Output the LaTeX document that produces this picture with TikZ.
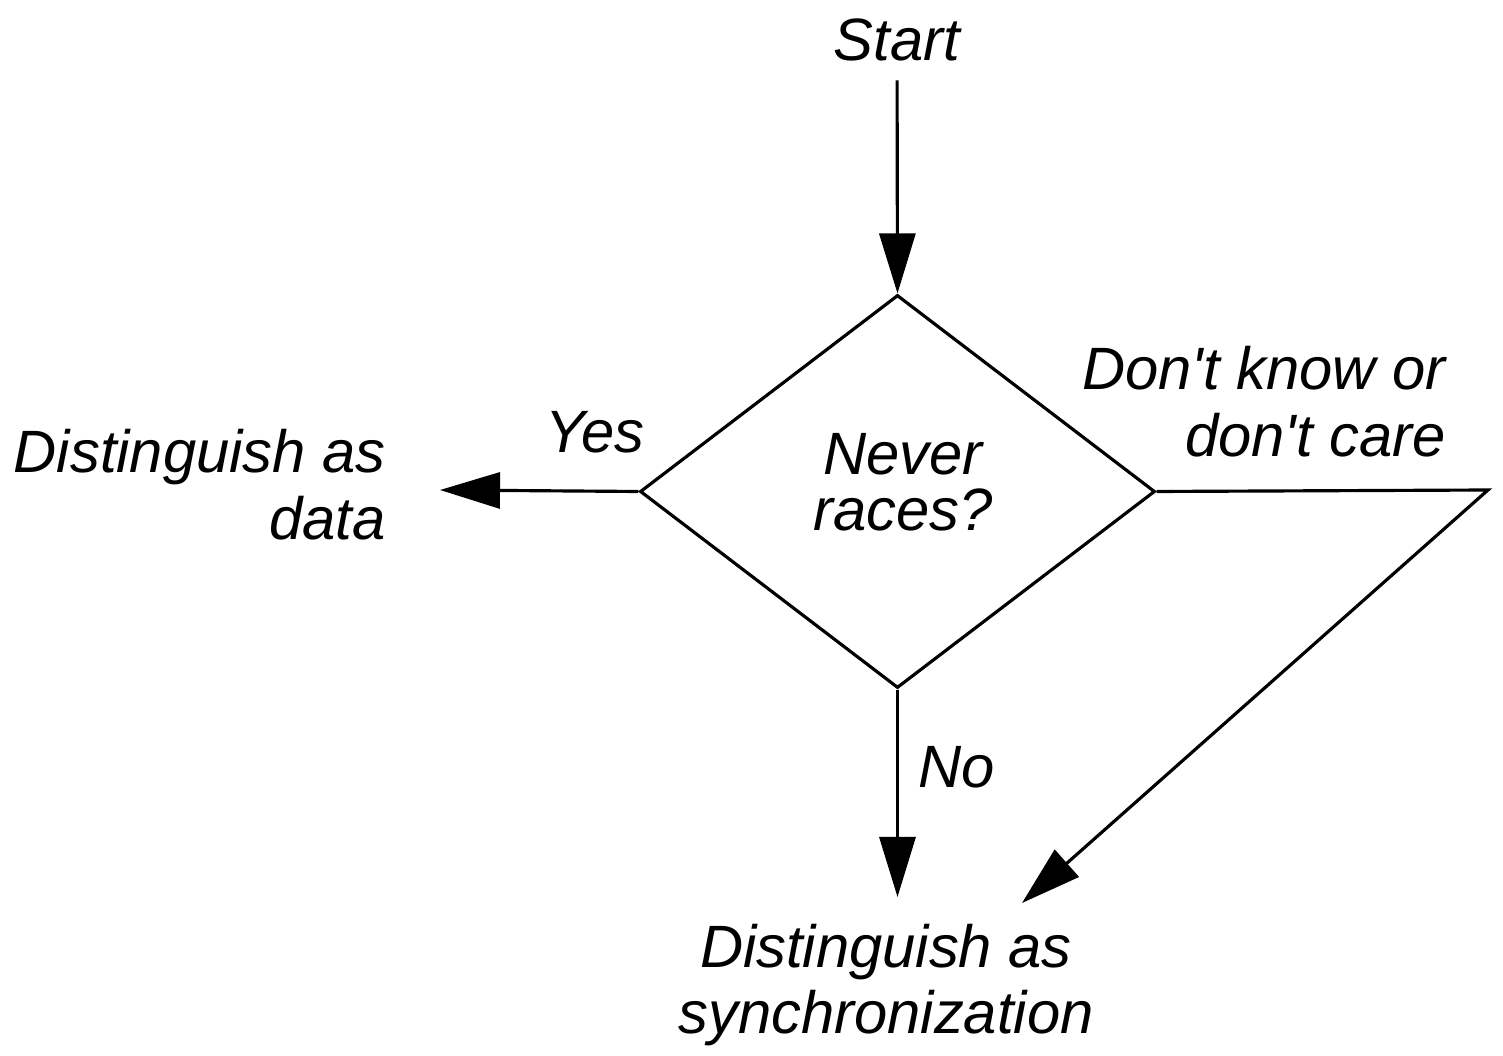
\documentclass[tikz,border=0pt]{standalone}
\usepackage{fontspec}
\setmainfont{Liberation Sans}
\usetikzlibrary{arrows.meta,shapes.geometric}

\begin{document}
\begin{tikzpicture}[
    every node/.style={font=\fontsize{17}{19}\selectfont\itshape, inner sep=1pt},
    flow/.style={line width=0.9pt, -{Triangle[length=0.6cm, width=0.36cm]}},
    decision/.style={diamond, draw, line width=0.9pt, minimum width=5.15cm, minimum height=3.93cm}]
    \useasboundingbox (0,0) rectangle (15.03,10.56);
    % Start and decision
    \node (start) at (8.97,10.16) {Start};
    \node[decision] (races) at (8.975,5.645) {};
    \node[align=center] (question) at (9.03,5.74) {Never\\[-3pt]races?};
    % Outcomes
    \node[anchor=east, align=right] (data) at (3.9,5.71) {Distinguish as\\data};
    \node[align=center] (sync) at (8.86,0.71) {Distinguish as\\synchronization};
    % Arrow tips
    \coordinate (yestip) at (4.40,5.66);
    \coordinate (notip) at (8.975,1.59);
    \coordinate (corner) at (14.88,5.66);
    \coordinate (caretip) at (10.22,1.53);
    % Connectors
    \draw[flow, shorten <=0.15cm] (start) -- (races.north);
    \draw[flow] (races.west) -- (yestip);
    \draw[flow] (races.south) -- (notip);
    \draw[flow] (races.east) -- (corner) -- (caretip);
    % Branch labels
    \node (yes) at (5.95,6.24) {Yes};
    \node (no) at (9.57,2.89) {No};
    \node[anchor=east, align=right] (dontknow) at (14.5,6.54) {Don\textquotesingle t know or\\don\textquotesingle t care};
\end{tikzpicture}
\end{document}
